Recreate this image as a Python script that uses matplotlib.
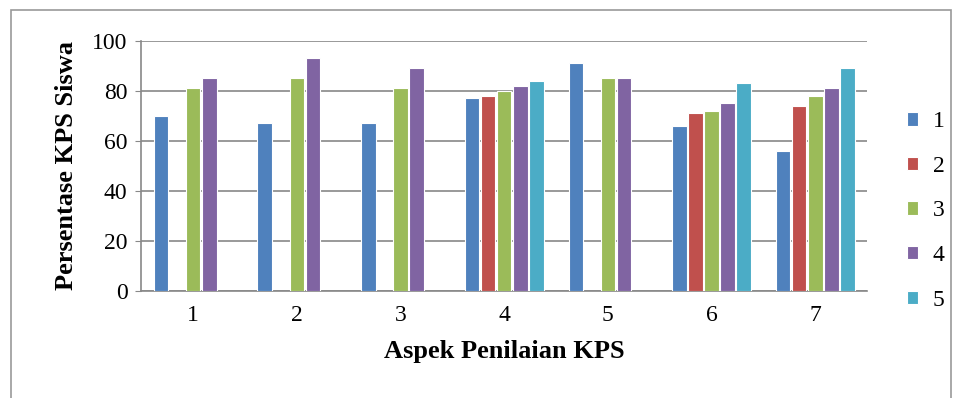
import numpy as np
import matplotlib.pyplot as plt
from matplotlib.patches import Rectangle

# Data
aspek = ["1", "2", "3", "4", "5", "6", "7"]
seri = ["1", "2", "3", "4", "5"]
s1 = [70, 67, 67, 77, 91, 66, 56]
s2 = [np.nan, np.nan, np.nan, 78, np.nan, 71, 74]
s3 = [81, 85, 81, 80, 85, 72, 78]
s4 = [85, 93, 89, 82, 85, 75, 81]
s5 = [np.nan, np.nan, np.nan, 84, np.nan, 83, 89]
values = [s1, s2, s3, s4, s5]
colors = ["#4F81BD", "#C0504D", "#9BBB59", "#8064A2", "#4BACC6"]

plt.rcParams['font.family'] = ['Liberation Serif', 'DejaVu Serif']

fig = plt.figure(figsize=(9.55, 3.98), dpi=100)
ax = fig.add_axes([0.148, 0.269, 0.760, 0.628])

x = np.arange(len(aspek))
step = 0.155
width = 0.14
for i, (vals, c, name) in enumerate(zip(values, colors, seri)):
    ax.bar(x + (i - 2) * step, vals, width, color=c, edgecolor="white",
           linewidth=0.8, label=name, zorder=3)

ax.set_xlim(-0.5, len(aspek) - 0.5)
ax.set_ylim(0, 100)
ax.set_yticks(range(0, 101, 20))
ax.set_xticks(x)
ax.set_xticklabels(aspek)
ax.tick_params(axis="both", labelsize=17, colors="black")
ax.tick_params(axis="x", length=0, pad=10)
ax.tick_params(axis="y", length=4, color="#888888", pad=6)
ax.yaxis.grid(True, color="#888888", linewidth=1.2, zorder=0)
for s in ["top", "right"]:
    ax.spines[s].set_visible(False)
ax.spines["left"].set_color("#888888")
ax.spines["bottom"].set_color("#888888")
ax.spines["left"].set_linewidth(1.2)
ax.spines["bottom"].set_linewidth(1.2)

ax.set_xlabel("Aspek Penilaian KPS", fontsize=19, fontweight="bold", labelpad=10)
ax.set_ylabel("Persentase KPS Siswa", fontsize=19, fontweight="bold", labelpad=10)

leg = ax.legend(loc="center left", bbox_to_anchor=(1.025, 0.32), frameon=False,
                fontsize=17, handlelength=0.5, handleheight=0.5,
                labelspacing=1.0, handletextpad=0.6)

fig.patches.append(Rectangle((0.011, -0.01), 0.985, 0.985, transform=fig.transFigure,
                             fill=False, edgecolor="#999999", linewidth=1.2))

fig.savefig("out.png", dpi=100)
